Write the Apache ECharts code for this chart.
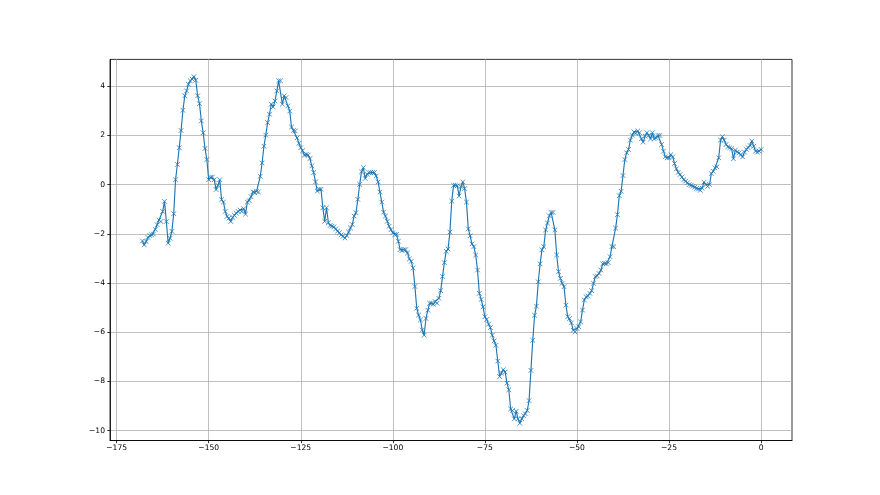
<!DOCTYPE html>
<html>
<head>
<meta charset="utf-8">
<script src="https://cdn.jsdelivr.net/npm/echarts@6/dist/echarts.min.js"></script>
<style>
  html, body { margin: 0; padding: 0; background: #fff; }
  #chart { width: 880px; height: 495px; }
</style>
</head>
<body>
<div id="chart"></div>
<script>
// sampling grid of the series: first x and step between points
var xStart = -168;
var xStep = 0.5;

// y values, one per half unit from -168 to 0
var yValues = [
  -2.29, -2.45, -2.31, -2.15, -2.07, -2.04, -2.01, -1.82, -1.63, -1.44,
  -1.50, -1.09, -0.68, -1.50, -2.38, -2.18, -1.90, -1.18, 0.20, 0.82,
  1.50, 2.20, 3.02, 3.61, 3.81, 4.08, 4.22, 4.29, 4.39, 4.24,
  3.61, 3.29, 2.59, 2.11, 1.47, 1.02, 0.20, 0.30, 0.31, 0.20,
  -0.20, -0.03, 0.20, -0.61, -0.71, -1.09, -1.29, -1.36, -1.50, -1.33,
  -1.25, -1.16, -1.09, -1.03, -1.09, -0.98, -1.20, -0.71, -0.65, -0.49,
  -0.30, -0.33, -0.27, -0.30, 0.34, 0.88, 1.56, 2.01, 2.52, 2.86,
  3.27, 3.16, 3.40, 3.81, 4.22, 4.22, 3.27, 3.61, 3.54, 3.20,
  2.99, 2.34, 2.20, 2.18, 1.90, 1.68, 1.50, 1.38,
  1.20, 1.23, 1.20, 1.06, 0.76, 0.49, 0.11, -0.26, -0.19, -0.19,
  -0.94, -1.49, -0.94, -1.55, -1.66, -1.69, -1.72, -1.80, -1.89, -1.96,
  -2.04, -2.10, -2.17, -2.07, -1.93, -1.76, -1.62, -1.28, -1.14, -0.60,
  0.01, 0.52, 0.69, 0.25, 0.42, 0.49, 0.49, 0.49, 0.49, 0.35,
  0.11, -0.30, -0.71, -1.12, -1.28, -1.49, -1.69, -1.83, -1.96, -2.03,
  -2.02, -2.30, -2.64, -2.68, -2.64, -2.64, -2.78, -3.02, -3.12, -3.39,
  -4.14, -5.03, -5.30, -5.50, -5.91, -6.12, -5.44, -5.10, -4.82, -4.82,
  -4.86, -4.75, -4.82, -4.62, -4.31, -3.73, -3.17, -2.71, -2.62, -1.93,
  -0.67, -0.03, -0.03, -0.05, -0.46, -0.08, 0.11, -0.16, -0.71, -1.80,
  -2.08, -2.41, -2.52, -2.86, -3.47, -4.42, -4.67, -4.97, -5.37, -5.48,
  -5.67, -5.81, -6.12, -6.35, -6.53, -7.17, -7.80, -7.66, -7.52, -7.62,
  -8.07, -8.34, -9.12, -9.18, -9.52, -9.21, -9.52, -9.70, -9.52, -9.39,
  -9.32, -9.18, -8.78, -7.55, -6.33, -5.31, -4.94, -3.95, -3.22, -2.65,
  -2.52, -1.84, -1.56, -1.27, -1.13, -1.13, -1.84, -2.86, -3.54, -3.81,
  -4.01, -4.15, -4.90, -5.37, -5.44, -5.62, -5.92, -5.99, -5.85, -5.78,
  -5.58, -5.10, -4.69, -4.56, -4.53, -4.42, -4.31, -4.01, -3.74, -3.71,
  -3.61,
  -3.47, -3.22, -3.20, -3.22, -3.17, -2.93, -2.52, -2.52, -1.77, -1.22,
  -0.45, -0.27, 0.37, 1.02, 1.29, 1.43, 1.81, 2.00, 2.14, 2.08,
  2.18, 2.11, 1.86, 1.73, 1.97, 2.11, 2.00, 1.86, 2.11, 1.86,
  1.90, 2.00, 2.00, 1.63, 1.36, 1.13, 1.09, 1.09, 1.22, 1.13,
  0.86, 0.64, 0.50, 0.41, 0.31, 0.20, 0.14, 0.07, 0.00, -0.03,
  -0.07, -0.11, -0.15, -0.18, -0.23, -0.14, 0.10, 0.00, -0.07, 0.00,
  0.45, 0.54, 0.68, 0.72, 1.09, 1.81, 1.95, 1.81, 1.63, 1.54,
  1.50, 1.46, 1.05, 1.40, 1.32, 1.29, 1.22, 1.13, 1.32, 1.43,
  1.50, 1.59, 1.77, 1.56, 1.36, 1.32, 1.36, 1.43
];

// tick labels
var xTicks = [-175, -150, -125, -100, -75, -50, -25, 0];
var yTicks = [-10, -8, -6, -4, -2, 0, 2, 4];

var chart = echarts.init(document.getElementById('chart'), null, { renderer: 'canvas' });

var points = yValues.map(function (v, i) {
  return [xStart + i * xStep, v];
});

function minusSign(v) {
  return String(v).replace('-', '\u2212');
}

var labelStyle = {
  fontFamily: 'DejaVu Sans',
  fontSize: 7.6,
  color: '#000'
};
var spine = { color: '#000', width: 0.8 };
var gridLine = { color: '#b0b0b0', width: 0.8 };

var option = {
  animation: false,
  backgroundColor: '#fff',
  grid: {
    left: 110,
    right: 88,
    top: 59.4,
    bottom: 54.5,
    show: true,
    borderColor: '#000',
    borderWidth: 0.8,
    backgroundColor: 'transparent'
  },
  xAxis: {
    type: 'value',
    min: -176.8,
    max: 8.4,
    axisLine: { show: true, onZero: false, lineStyle: spine },
    axisTick: { show: true, inside: false, length: 2.7, customValues: xTicks, lineStyle: spine },
    axisLabel: Object.assign({ customValues: xTicks, margin: 4, formatter: minusSign }, labelStyle),
    splitLine: { show: true, lineStyle: gridLine }
  },
  yAxis: {
    type: 'value',
    min: -10.4,
    max: 5.09,
    axisLine: { show: true, onZero: false, lineStyle: spine },
    axisTick: { show: true, inside: false, length: 2.7, customValues: yTicks, lineStyle: spine },
    axisLabel: Object.assign({ customValues: yTicks, margin: 5, formatter: minusSign }, labelStyle),
    splitLine: { show: true, lineStyle: gridLine }
  },
  series: [{
    type: 'line',
    data: points,
    symbol: 'path://M0,0L10,10M10,0L0,10',
    symbolSize: 4.6,
    showAllSymbol: true,
    lineStyle: { color: '#1f77b4', width: 1.15 },
    itemStyle: { color: '#1f77b4', borderColor: '#1f77b4', borderWidth: 0.8 },
    emphasis: { disabled: true },
    z: 3
  }]
};

chart.setOption(option);
</script>
</body>
</html>
